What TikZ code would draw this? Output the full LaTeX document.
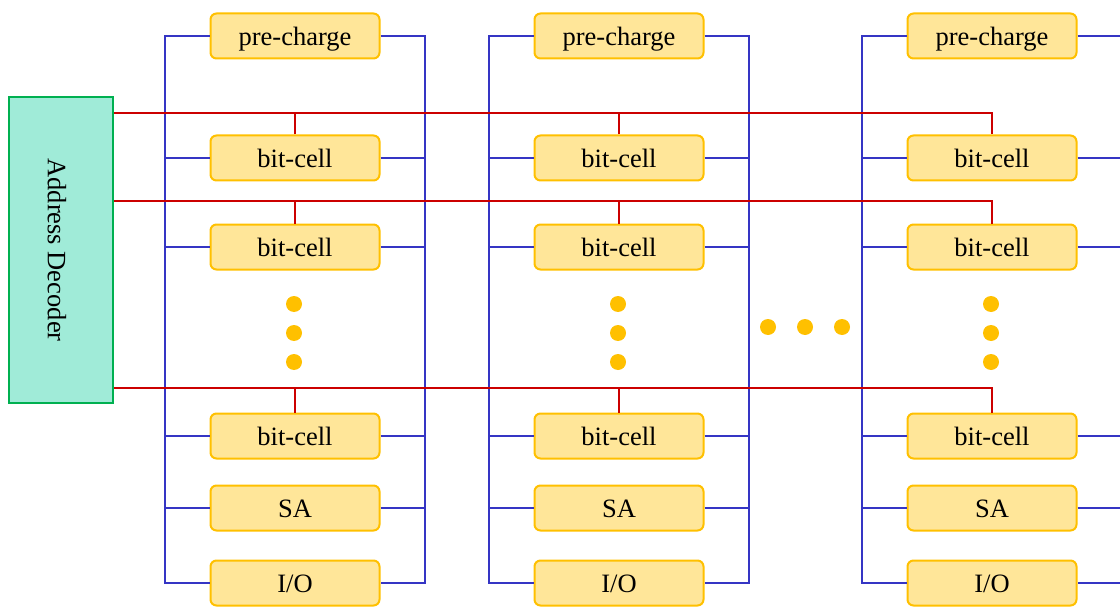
\documentclass[tikz,border=0pt]{standalone}
\usepackage{fontspec}
\setmainfont{Liberation Serif}
\definecolor{railblue}{HTML}{3535C4}
\definecolor{wordred}{HTML}{CC0000}
\definecolor{cellfill}{HTML}{FFE699}
\definecolor{celledge}{HTML}{FFC000}
\definecolor{decfill}{HTML}{A0EBD8}
\definecolor{decedge}{HTML}{00B050}
\tikzset{
  cellbox/.style={draw=celledge, fill=cellfill, line width=2pt, rounded corners=6pt,
    minimum width=169pt, minimum height=45pt, inner sep=0pt,
    text height=19pt, text depth=0pt,
    font=\fontsize{26.5}{28}\selectfont},
  decbox/.style={draw=decedge, fill=decfill, line width=2pt,
    minimum width=104pt, minimum height=306pt, inner sep=0pt},
  bitline/.style={draw=railblue, line width=2.5pt},
  wordline/.style={draw=wordred, line width=2pt},
  dotmark/.style={fill=celledge, draw=none}
}
\begin{document}
\begin{tikzpicture}[x=1pt,y=1pt]
\useasboundingbox (0,0) rectangle (1120,-607);

% address decoder
\node[decbox] (dec) at (61,-250) {};
\node[rotate=-90, font=\fontsize{26.5}{28}\selectfont] (declabel) at ([xshift=-4pt]dec.center) {Address Decoder};

% word-line heights
\coordinate (w1) at (0,-113);
\coordinate (w2) at (0,-201);
\coordinate (w3) at (0,-388);

% columns: index / center x / right rail x
\foreach \c/\cx/\rx in {1/295/425, 2/619/749, 3/992/1124} {
  \coordinate (L\c) at (\cx-130,0);
  \coordinate (R\c) at (\rx,0);
  \node[cellbox] (pc\c) at (\cx,-36) {pre-charge};
  \node[cellbox] (ba\c) at (\cx,-158) {bit-cell};
  \node[cellbox] (bb\c) at (\cx,-247) {bit-cell};
  \node[cellbox] (bn\c) at (\cx,-436) {bit-cell};
  \node[cellbox] (sa\c) at (\cx,-508) {SA};
  \node[cellbox] (io\c) at (\cx,-583) {I/O};
  % bit-line rails
  \draw[bitline] (pc\c.west) -| (L\c |- io\c.west) -- (io\c.west);
  \draw[bitline] (pc\c.east) -| (R\c |- io\c.east) -- (io\c.east);
  \foreach \r in {ba,bb,bn,sa} {
    \draw[bitline] (\r\c.west) -- (L\c |- \r\c.west);
    \draw[bitline] (\r\c.east) -- (R\c |- \r\c.east);
  }
  % vertical ellipsis
  \foreach \dy [count=\k] in {304,333,362}
    \fill[dotmark] (\cx-1,-\dy) circle (8) node (vd\c\k) {};
}

% word lines
\draw[wordline] (dec.east |- w1) -| (ba3.north);
\draw[wordline] (dec.east |- w2) -| (bb3.north);
\draw[wordline] (dec.east |- w3) -| (bn3.north);
\foreach \c in {1,2} {
  \draw[wordline] (ba\c.north) -- (ba\c.north |- w1);
  \draw[wordline] (bb\c.north) -- (bb\c.north |- w2);
  \draw[wordline] (bn\c.north) -- (bn\c.north |- w3);
}

% horizontal ellipsis between columns
\foreach \dx [count=\k] in {768,805,842}
  \fill[dotmark] (\dx,-327) circle (8) node (hd\k) {};
\end{tikzpicture}
\end{document}
